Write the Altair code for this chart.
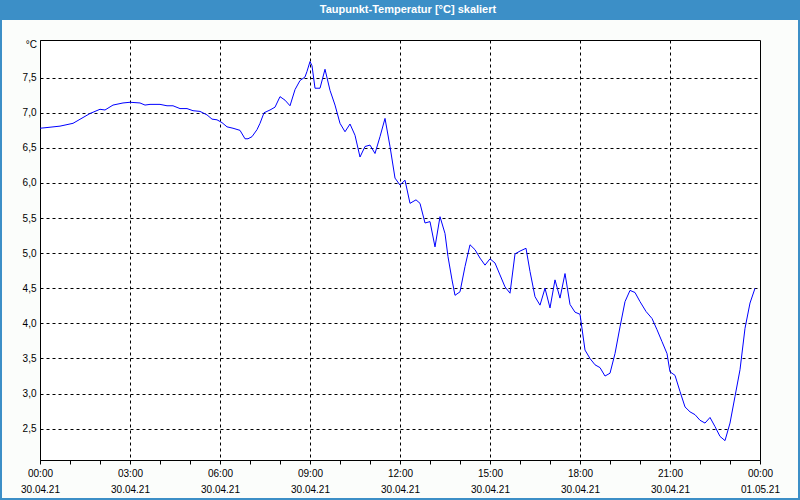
import altair as alt
import pandas as pd

# ---- data (minutes since 30.04.21 00:00, dew point in °C) ----
minutes = [0, 14, 40, 66, 100, 120, 130, 146, 166, 180, 200, 210, 220, 240, 254, 266, 280, 294,
           306, 320, 334, 344, 354, 364, 374, 386, 400, 410, 416, 424, 434, 440, 448, 460, 470,
           480, 490, 500, 510, 520, 530, 534, 540, 544, 550, 560, 570, 580, 590, 600, 610, 620,
           630, 640, 650, 660, 670, 680, 690, 700, 710, 720, 730, 740, 752, 760, 770, 780, 790,
           800, 810, 816, 824, 830, 840, 850, 860, 870, 880, 890, 900, 910, 920, 930, 940, 950,
           960, 972, 980, 990, 1000, 1010, 1020, 1030, 1040, 1050, 1060, 1070, 1080, 1090, 1100,
           1110, 1120, 1130, 1140, 1150, 1160, 1170, 1180, 1190, 1200, 1212, 1224, 1234, 1244,
           1254, 1260, 1270, 1280, 1290, 1300, 1310, 1320, 1330, 1340, 1350, 1360, 1370, 1380,
           1390, 1400, 1410, 1420, 1430]
dewpoint = [6.78, 6.79, 6.81, 6.85, 6.99, 7.05, 7.04, 7.11, 7.14, 7.15, 7.14, 7.11, 7.12, 7.12,
            7.10, 7.10, 7.06, 7.06, 7.03, 7.02, 6.97, 6.91, 6.90, 6.86, 6.80, 6.78, 6.75, 6.63,
            6.63, 6.66, 6.76, 6.85, 7.00, 7.04, 7.08, 7.23, 7.18, 7.10, 7.33, 7.46, 7.51, 7.59,
            7.73, 7.67, 7.35, 7.35, 7.62, 7.32, 7.11, 6.85, 6.73, 6.84, 6.68, 6.37, 6.52, 6.54,
            6.42, 6.66, 6.92, 6.52, 6.07, 5.97, 6.04, 5.71, 5.76, 5.71, 5.43, 5.45, 5.09, 5.52,
            5.28, 4.95, 4.62, 4.40, 4.45, 4.81, 5.12, 5.05, 4.93, 4.83, 4.92, 4.86, 4.69, 4.52,
            4.43, 4.99, 5.03, 5.07, 4.74, 4.38, 4.26, 4.50, 4.22, 4.62, 4.36, 4.71, 4.27, 4.16,
            4.13, 3.62, 3.50, 3.41, 3.37, 3.25, 3.29, 3.57, 3.95, 4.31, 4.47, 4.44, 4.31, 4.17,
            4.07, 3.91, 3.74, 3.57, 3.31, 3.26, 3.03, 2.81, 2.74, 2.70, 2.62, 2.58, 2.66, 2.53,
            2.39, 2.33, 2.58, 2.96, 3.34, 3.93, 4.29, 4.50]

tick_minutes = [0, 180, 360, 540, 720, 900, 1080, 1260, 1440]
tick_times = ["00:00", "03:00", "06:00", "09:00", "12:00", "15:00", "18:00", "21:00", "00:00"]
tick_dates = ["30.04.21"] * 8 + ["01.05.21"]
minor_ticks = list(range(0, 1441, 60))
y_ticks = [2.5, 3.0, 3.5, 4.0, 4.5, 5.0, 5.5, 6.0, 6.5, 7.0, 7.5]
y_domain = [2.054, 8.037]
title_text = "Taupunkt-Temperatur [°C] skaliert"
unit_text = "°C"

FONT = "Liberation Sans"
BLUE_BAR = "#3c8fc7"

df = pd.DataFrame({"m": minutes, "v": dewpoint})

# label expression built from tick lists
label_expr = "''"
for m, t, d in reversed(list(zip(tick_minutes, tick_times, tick_dates))):
    label_expr = f"datum.value == {m} ? ['{t}', '{d}'] : ({label_expr})"

x_enc = alt.X(
    "m:Q",
    scale=alt.Scale(domain=[0, 1440], nice=False, zero=False),
    axis=alt.Axis(
        title=None,
        values=minor_ticks,
        labelExpr=label_expr,
        labelFont=FONT, labelFontSize=10, labelColor="black",
        labelLineHeight=16, labelPadding=4, labelOverlap=False,
        labelFlush=False,
        tickSize=4, tickColor="black",
        domainColor="black",
        grid=True, gridColor="black", gridDash=[3, 3],
        gridOpacity=alt.expr(f"datum.value % 180 == 0 && datum.value > 0 && datum.value < 1440 ? 1 : 0"),
    ),
)
y_enc = alt.Y(
    "v:Q",
    scale=alt.Scale(domain=y_domain, nice=False, zero=False),
    axis=alt.Axis(
        title=None,
        values=y_ticks,
        labelExpr="replace(format(datum.value, '.1f'), '.', ',')",
        labelFont=FONT, labelFontSize=10, labelColor="black", labelPadding=4,
        ticks=False, domainColor="black",
        grid=True, gridColor="black", gridDash=[3, 3],
    ),
)

one = alt.Data(values=[{}])

title_bar = alt.Chart(one).mark_rect(color=BLUE_BAR).encode(
    x=alt.value(-40), x2=alt.value(760), y=alt.value(-40), y2=alt.value(-20)
)
frame = alt.Chart(one).mark_rect(fill=None, stroke=BLUE_BAR, strokeWidth=2).encode(
    x=alt.value(-39), x2=alt.value(759), y=alt.value(-40), y2=alt.value(459)
)
title = alt.Chart(one).mark_text(
    text=title_text, font=FONT, fontSize=11, fontWeight="bold", color="white",
    align="center", baseline="middle"
).encode(x=alt.value(368), y=alt.value(-30))
unit = alt.Chart(one).mark_text(
    text=unit_text, font=FONT, fontSize=10, color="black", align="right", baseline="middle"
).encode(x=alt.value(-3), y=alt.value(5))

line = alt.Chart(df).mark_line(color="#0000ff", strokeWidth=1).encode(x=x_enc, y=y_enc)

chart = alt.layer(title_bar, frame, title, unit, line).properties(
    width=720, height=420,
    padding={"left": 40, "top": 40, "right": 40, "bottom": 40},
    autosize=alt.AutoSizeParams(type="none"),
    background="#fbfdfb",
).configure_view(stroke="black", strokeWidth=1, fill="white")

chart.save("out.html", embed_options={"renderer": "svg", "actions": False})
